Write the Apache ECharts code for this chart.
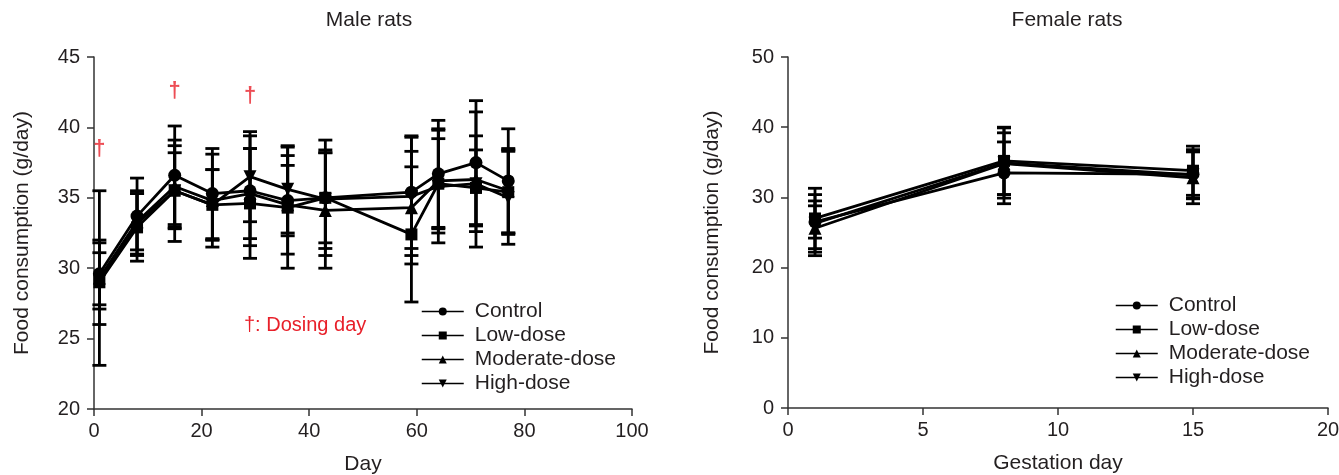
<!DOCTYPE html>
<html><head><meta charset="utf-8">
<script src="https://cdn.jsdelivr.net/npm/echarts@6/dist/echarts.min.js"></script>
<style>html,body{margin:0;padding:0;background:#fff}#c{width:1339px;height:475px}</style>
</head><body><div id="c"></div>
<script>
const groups = ['Control', 'Low-dose', 'Moderate-dose', 'High-dose'];
const symbols = ['circle', 'rect', 'triangle', 'triangle'];
const rotations = [0, 0, 0, 180];
const symbolSizes = [13, 12, 13, 13];

// Male rats
const maleDays = [1, 8, 15, 22, 29, 36, 43, 59, 64, 71, 77];
const maleControl = [29.6, 33.7, 36.6, 35.3, 35.5, 34.8, 35.0, 35.4, 36.7, 37.5, 36.2];
const maleLow = [29.0, 32.9, 35.5, 34.5, 34.6, 34.3, 35.0, 32.4, 36.0, 35.7, 35.4];
const maleModerate = [29.3, 33.3, 35.8, 34.8, 35.3, 34.5, 34.1, 34.3, 36.2, 36.3, 35.5];
const maleHigh = [29.1, 33.2, 35.5, 34.5, 36.5, 35.6, 34.9, 35.1, 35.8, 36.0, 35.0];
const maleControlSD = [2.2, 2.7, 3.5, 3.2, 3.9, 2.5, 4.1, 4.0, 3.8, 4.4, 3.7];
const maleLowSD = [3.0, 2.4, 3.6, 2.5, 3.9, 4.3, 3.2, 4.8, 3.2, 2.7, 3.0];
const maleModerateSD = [6.2, 2.0, 2.9, 3.3, 3.2, 3.5, 4.1, 4.0, 3.7, 4.8, 3.0];
const maleHighSD = [2.0, 2.3, 2.7, 2.5, 3.2, 3.1, 3.5, 4.2, 4.0, 3.4, 3.3];
// dosing day markers (day, height)
const dosingDays = [1, 15, 29];
const dosingMarkY = [38.5, 42.6, 42.2];

// Female rats
const femaleDays = [1, 8, 15];
const femaleControl = [26.5, 33.5, 33.3];
const femaleLow = [27.0, 35.2, 33.8];
const femaleModerate = [25.6, 34.8, 32.8];
const femaleHigh = [26.3, 34.9, 33.2];
const femaleControlSD = [2.3, 4.4, 3.5];
const femaleLowSD = [4.3, 4.8, 3.5];
const femaleModerateSD = [3.9, 4.4, 3.7];
const femaleHighSD = [4.1, 5.0, 3.3];

const maleMeans = [maleControl, maleLow, maleModerate, maleHigh];
const maleSDs = [maleControlSD, maleLowSD, maleModerateSD, maleHighSD];
const femaleMeans = [femaleControl, femaleLow, femaleModerate, femaleHigh];
const femaleSDs = [femaleControlSD, femaleLowSD, femaleModerateSD, femaleHighSD];

const INK = '#231f20';
const FONT = 'Liberation Sans, Arial, sans-serif';

function errRender(params, api) {
  const x = api.value(0), lo = api.value(1), hi = api.value(2);
  const a = api.coord([x, lo]), b = api.coord([x, hi]);
  const w = 7;
  const st = { stroke: '#000', lineWidth: 2.8 };
  return { type: 'group', children: [
    { type: 'line', shape: { x1: a[0], y1: a[1], x2: b[0], y2: b[1] }, style: st },
    { type: 'line', shape: { x1: a[0] - w, y1: a[1], x2: a[0] + w, y2: a[1] }, style: st },
    { type: 'line', shape: { x1: b[0] - w, y1: b[1], x2: b[0] + w, y2: b[1] }, style: st }
  ]};
}

const series = [];
function addPanel(idx, days, means, sds) {
  for (let g = 0; g < 4; g++) {
    series.push({
      type: 'custom', name: 'err' + idx + g, xAxisIndex: idx, yAxisIndex: idx,
      renderItem: errRender, encode: { x: 0, y: [1, 2] }, z: 3,
      data: days.map((d, i) => [d, means[g][i] - sds[g][i], means[g][i] + sds[g][i]]),
      silent: true
    });
  }
  for (let g = 0; g < 4; g++) {
    series.push({
      type: 'line', name: groups[g], xAxisIndex: idx, yAxisIndex: idx,
      data: days.map((d, i) => [d, means[g][i]]),
      symbol: symbols[g], symbolRotate: rotations[g], symbolSize: symbolSizes[g],
      showSymbol: true, showAllSymbol: true,
      lineStyle: { color: '#000', width: 2.8 },
      itemStyle: { color: '#000', borderWidth: 0 },
      z: 4, animation: false
    });
  }
}
addPanel(0, maleDays, maleMeans, maleSDs);
addPanel(1, femaleDays, femaleMeans, femaleSDs);

series.push({
  type: 'scatter', name: 'dosing', xAxisIndex: 0, yAxisIndex: 0,
  data: dosingDays.map((d, i) => [d, dosingMarkY[i]]),
  symbolSize: 1, itemStyle: { color: 'rgba(0,0,0,0)' },
  label: { show: true, formatter: '†', position: 'inside', color: '#e8202a', fontSize: 22, fontWeight: 'bold', fontFamily: FONT },
  silent: true, z: 5
});

function xAxis(idx, min, max, interval, name) {
  return {
    type: 'value', gridIndex: idx, min, max, interval,
    name, nameLocation: 'middle', nameGap: 45,
    nameTextStyle: { fontSize: 21, color: INK, fontFamily: FONT },
    axisLine: { lineStyle: { color: '#333', width: 1.5 } },
    axisTick: { length: 7, lineStyle: { color: '#333', width: 1.5 } },
    axisLabel: { fontSize: 20, color: INK, fontFamily: FONT, margin: 12 },
    splitLine: { show: false }
  };
}
function yAxis(idx, min, max, interval, gap) {
  return {
    type: 'value', gridIndex: idx, min, max, interval,
    name: 'Food consumption (g/day)', nameLocation: 'middle', nameGap: gap,
    nameTextStyle: { fontSize: 21, color: INK, fontFamily: FONT },
    axisLine: { show: true, lineStyle: { color: '#333', width: 1.5 } },
    axisTick: { show: true, length: 7, lineStyle: { color: '#333', width: 1.5 } },
    axisLabel: { fontSize: 20, color: INK, fontFamily: FONT, margin: 14 },
    splitLine: { show: false }
  };
}

const legendCommon = {
  orient: 'vertical', data: groups, itemWidth: 42, itemHeight: 10, itemGap: 3,
  textStyle: { fontSize: 21, color: INK, fontFamily: FONT, padding: [0, 0, 0, 6] },
  lineStyle: { width: 1.5 }, itemStyle: { borderWidth: 0 },
  selectedMode: false, padding: 0
};

const option = {
  animation: false,
  backgroundColor: '#fff',
  title: [
    { text: 'Male rats', left: 364, top: 5, textAlign: 'center',
      textStyle: { fontSize: 21, fontWeight: 'normal', color: INK, fontFamily: FONT } },
    { text: 'Female rats', left: 1062, top: 5, textAlign: 'center',
      textStyle: { fontSize: 21, fontWeight: 'normal', color: INK, fontFamily: FONT } }
  ],
  grid: [
    { left: 94, right: 707, top: 57, bottom: 66, outerBoundsMode: 'none' },
    { left: 788, right: 11, top: 57, bottom: 67, outerBoundsMode: 'none' }
  ],
  xAxis: [xAxis(0, 0, 100, 20, 'Day'), xAxis(1, 0, 20, 5, 'Gestation day')],
  yAxis: [yAxis(0, 20, 45, 5, 61), yAxis(1, 0, 50, 10, 65)],
  legend: [
    Object.assign({}, legendCommon, { left: 421, top: 301 }),
    Object.assign({}, legendCommon, { left: 1115, top: 295 })
  ],
  graphic: [
    { type: 'text', left: 244, top: 315,
      style: { text: '†: Dosing day', fontSize: 20, fill: '#e8202a', fontFamily: FONT } }
  ],
  series
};
const chart = echarts.init(document.getElementById('c'), null, { renderer: 'canvas' });
chart.setOption(option);
</script></body></html>
